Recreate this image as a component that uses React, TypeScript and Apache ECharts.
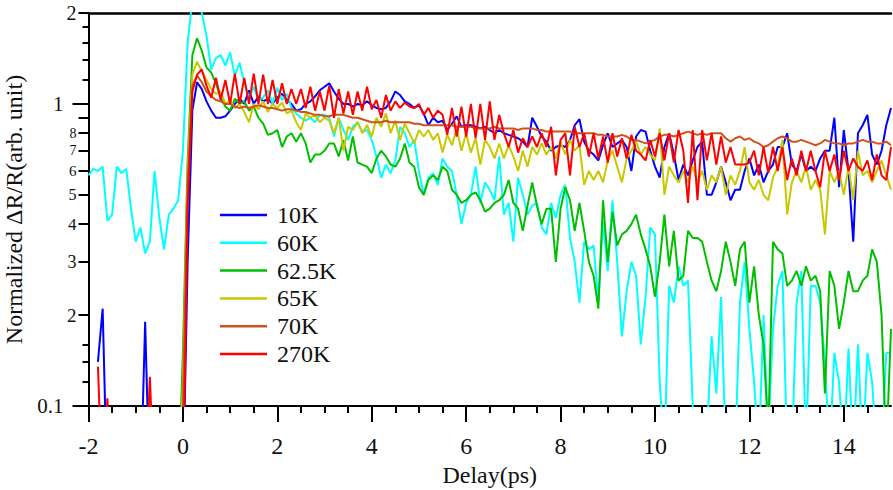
import { useEffect, useRef } from "react";
import * as echarts from "echarts";

// Delay grid (ps): -2.0 ... 15.0 in 0.1 ps steps
const DELAY: number[] = Array.from({ length: 171 }, (_, i) => Math.round((-2 + i * 0.1) * 10) / 10);

const N = null;
// Normalized dR/R values (0.05 / 0.07 = below the 0.1 floor of the log axis)
const K10: (number | null)[] = [
  N, N, 0.14, 0.21, 0.05, N, N, N, N, N,
  N, 0.05, 0.19, 0.05, N, N, N, N, N, N,
  0.05, 0.3, 0.95, 1.18, 1.12, 1.02, 0.95, 0.9, 0.9, 0.91,
  0.95, 1.0, 1.04, 1.0, 1.11, 1.0, 1.06, 1.02, 1.04, 1.0,
  1.05, 1.08, 1.03, 1.0, 0.95, 0.96, 1.0, 1.02, 1.06, 1.11,
  1.14, 1.17, 1.1, 1.04, 1.0, 1.0, 0.98, 1.0, 0.99, 1.02,
  0.99, 0.97, 0.96, 0.97, 1.02, 1.1, 1.07, 1.02, 1.0, 0.97,
  0.99, 0.93, 0.85, 0.9, 0.87, 0.88, 0.82, 0.86, 0.91, 0.84,
  0.85, 0.85, 0.84, 0.83, 0.84, 0.82, 0.8, 0.82, 0.8, 0.79,
  0.78, 0.77, 0.75, 0.72, 0.9, 0.84, 0.78, 0.75, 0.7, 0.72,
  0.73, 0.72, 0.76, 0.85, 0.89, 0.75, 0.7, 0.68, 0.65, 0.73,
  0.8, 0.72, 0.74, 0.76, 0.72, 0.6, 0.78, 0.82, 0.81, 0.7,
  0.62, 0.57, 0.72, 0.8, 0.68, 0.56, 0.63, 0.58, 0.65, 0.72,
  0.75, 0.5, 0.5, 0.55, 0.62, 0.55, 0.48, 0.52, 0.52, 0.6,
  0.66, 0.58, 0.63, 0.55, 0.6, 0.63, 0.72, 0.72, 0.8, 0.63,
  0.6, 0.68, 0.6, 0.62, 0.6, 0.66, 0.7, 0.7, 0.9, 0.53,
  0.82, 0.6, 0.35, 0.8, 0.85, 0.92, 0.68, 0.63, 0.7, 0.85,
  0.97,
];
const K60: (number | null)[] = [
  0.58, 0.61, 0.6, 0.62, 0.41, 0.43, 0.62, 0.59, 0.61, 0.45,
  0.35, 0.39, 0.32, 0.35, 0.6, 0.42, 0.33, 0.43, 0.45, 0.48,
  0.7, 1.6, 2.2, 2.3, 2.0, 1.68, 1.3, 1.42, 1.45, 1.34,
  1.48, 1.24, 1.37, 1.17, 1.05, 1.14, 1.03, 1.05, 1.11, 1.0,
  1.13, 1.03, 1.08, 0.97, 0.93, 0.9, 0.88, 0.9, 0.87, 0.92,
  0.92, 0.9, 0.78, 0.9, 0.82, 0.76, 0.84, 0.87, 0.81, 0.82,
  0.76, 0.67, 0.57, 0.63, 0.59, 0.65, 0.84, 0.8, 0.72, 0.76,
  0.6, 0.5, 0.57, 0.59, 0.54, 0.66, 0.62, 0.6, 0.5, 0.4,
  0.47, 0.5, 0.62, 0.47, 0.55, 0.52, 0.48, 0.67, 0.43, 0.47,
  0.35, 0.57, 0.5, 0.43, 0.46, 0.47, 0.39, 0.37, 0.47, 0.42,
  0.5, 0.54, 0.36, 0.3, 0.22, 0.35, 0.33, 0.34, 0.22, 0.41,
  0.28, 0.48, 0.3, 0.17, 0.24, 0.3, 0.27, 0.16, 0.23, 0.39,
  0.37, 0.12, 0.07, 0.25, 0.22, 0.29, 0.25, 0.26, 0.1, 0.07,
  0.07, 0.08, 0.17, 0.11, 0.23, 0.07, 0.07, 0.07, 0.22, 0.3,
  0.18, 0.12, 0.07, 0.2, 0.08, 0.18, 0.25, 0.28, 0.07, 0.07,
  0.22, 0.28, 0.07, 0.25, 0.25, 0.22, 0.14, 0.07, 0.15, 0.12,
  0.07, 0.155, 0.07, 0.16, 0.07, 0.15, 0.12, 0.07, 0.07, 0.15,
  0.15,
];
const K62_5: (number | null)[] = [
  0.05, 0.05, 0.05, 0.05, 0.05, 0.05, 0.05, 0.05, 0.05, 0.05,
  0.05, 0.05, 0.05, 0.05, 0.05, 0.05, 0.05, 0.05, 0.05, 0.05,
  0.15, 0.65, 1.45, 1.65, 1.5, 1.32, 1.27, 1.17, 1.05, 0.98,
  0.95, 1.04, 1.0, 1.02, 0.95, 0.98, 0.9, 0.86, 0.79, 0.8,
  0.82, 0.72, 0.78, 0.8, 0.75, 0.8, 0.74, 0.64, 0.68, 0.68,
  0.7, 0.74, 0.74, 0.67, 0.76, 0.65, 0.78, 0.64, 0.63, 0.62,
  0.59, 0.66, 0.7, 0.67, 0.63, 0.62, 0.66, 0.74, 0.64, 0.62,
  0.53, 0.5, 0.56, 0.58, 0.56, 0.62, 0.6, 0.52, 0.5, 0.47,
  0.48, 0.5, 0.51, 0.48, 0.44, 0.45, 0.47, 0.48, 0.5, 0.56,
  0.47, 0.45, 0.38, 0.46, 0.55, 0.46, 0.4, 0.45, 0.45, 0.3,
  0.45, 0.53, 0.48, 0.38, 0.47, 0.38, 0.3, 0.27, 0.21, 0.48,
  0.3, 0.44, 0.34, 0.37, 0.38, 0.4, 0.43, 0.37, 0.33, 0.29,
  0.23, 0.3, 0.43, 0.29, 0.38, 0.26, 0.27, 0.38, 0.36, 0.36,
  0.35, 0.3, 0.26, 0.24, 0.28, 0.35, 0.3, 0.25, 0.33, 0.35,
  0.22, 0.29, 0.2, 0.16, 0.08, 0.35, 0.33, 0.32, 0.25, 0.26,
  0.28, 0.25, 0.29, 0.26, 0.27, 0.24, 0.11, 0.28, 0.25, 0.18,
  0.22, 0.28, 0.24, 0.24, 0.26, 0.27, 0.33, 0.3, 0.2, 0.07,
  0.18,
];
const K65: (number | null)[] = [
  0.05, 0.05, 0.05, 0.05, 0.05, 0.05, 0.05, 0.05, 0.05, 0.05,
  0.05, 0.05, 0.05, 0.05, 0.05, 0.05, 0.05, 0.05, 0.05, 0.05,
  0.12, 0.6, 1.25, 1.38, 1.28, 1.2, 1.12, 1.08, 1.1, 1.0,
  1.03, 0.97, 1.0, 0.94, 0.87, 1.0, 0.96, 1.02, 0.94, 1.0,
  0.97, 1.01, 0.93, 0.95, 0.87, 0.82, 0.93, 0.9, 0.92, 0.87,
  0.9, 0.88, 0.8, 0.9, 0.7, 0.84, 0.82, 0.87, 0.8, 0.85,
  0.78, 0.9, 0.84, 0.93, 0.8, 0.88, 0.76, 0.86, 0.8, 0.74,
  0.82, 0.78, 0.82, 0.76, 0.8, 0.69, 0.79, 0.73, 0.83, 0.7,
  0.8, 0.69, 0.77, 0.63, 0.76, 0.72, 0.66, 0.74, 0.66, 0.73,
  0.67, 0.6, 0.7, 0.62, 0.72, 0.68, 0.74, 0.68, 0.72, 0.66,
  0.75, 0.68, 0.76, 0.7, 0.73, 0.54, 0.6, 0.56, 0.6, 0.55,
  0.65, 0.7, 0.62, 0.55, 0.66, 0.7, 0.75, 0.68, 0.72, 0.68,
  0.65, 0.83, 0.5, 0.62, 0.58, 0.55, 0.6, 0.55, 0.62, 0.55,
  0.6, 0.52, 0.58, 0.55, 0.62, 0.5, 0.58, 0.54, 0.6, 0.72,
  0.55, 0.52, 0.56, 0.5, 0.48, 0.57, 0.62, 0.76, 0.43, 0.55,
  0.6, 0.55, 0.62, 0.52, 0.56, 0.52, 0.37, 0.6, 0.55, 0.6,
  0.5, 0.62, 0.48, 0.7, 0.58, 0.6, 0.55, 0.6, 0.65, 0.58,
  0.52,
];
const K70: (number | null)[] = [
  0.05, 0.05, 0.05, 0.05, 0.05, 0.05, 0.05, 0.05, 0.05, 0.05,
  0.05, 0.05, 0.05, 0.05, 0.05, 0.05, 0.05, 0.05, 0.05, 0.05,
  0.1, 0.55, 1.15, 1.24, 1.18, 1.1, 1.06, 1.03, 1.02, 1.0,
  1.0, 0.98, 0.97, 0.98, 0.97, 0.98, 0.99, 0.98, 0.97, 0.97,
  0.96, 0.95, 0.96, 0.96, 0.95, 0.94, 0.94, 0.93, 0.92, 0.92,
  0.91, 0.91, 0.92, 0.92, 0.92, 0.91, 0.9, 0.9, 0.89, 0.88,
  0.87, 0.87, 0.87, 0.88, 0.87, 0.87, 0.87, 0.87, 0.87, 0.86,
  0.86, 0.85, 0.85, 0.85, 0.85, 0.85, 0.85, 0.85, 0.84, 0.84,
  0.84, 0.84, 0.83, 0.83, 0.83, 0.83, 0.84, 0.83, 0.83, 0.83,
  0.83, 0.82, 0.83, 0.83, 0.83, 0.82, 0.82, 0.81, 0.81, 0.81,
  0.81, 0.81, 0.81, 0.8, 0.8, 0.8, 0.8, 0.8, 0.79, 0.79,
  0.78, 0.78, 0.78, 0.79, 0.78, 0.76, 0.76, 0.75, 0.74, 0.75,
  0.76, 0.78, 0.79, 0.79, 0.78, 0.79, 0.8, 0.81, 0.8, 0.79,
  0.8, 0.79, 0.8, 0.8, 0.8, 0.77, 0.75, 0.77, 0.78, 0.76,
  0.77, 0.75, 0.74, 0.72, 0.73, 0.75, 0.77, 0.78, 0.77, 0.75,
  0.75, 0.76, 0.75, 0.74, 0.73, 0.74, 0.76, 0.75, 0.74, 0.74,
  0.73, 0.74, 0.74, 0.75, 0.76, 0.75, 0.75, 0.74, 0.74, 0.75,
  0.73,
];
const K270: (number | null)[] = [
  N, N, 0.135, 0.05, 0.106, 0.05, N, N, N, N,
  N, N, 0.05, 0.125, 0.05, N, N, N, N, N,
  0.05, 0.45, 1.1, 1.25, 1.3, 1.15, 1.05, 1.22, 1.03, 1.2,
  1.0, 1.26, 1.0, 1.22, 1.0, 1.26, 1.0, 1.25, 1.0, 1.2,
  1.0, 1.17, 1.0, 1.12, 1.0, 1.12, 0.97, 1.14, 0.95, 1.1,
  0.95, 1.15, 0.9, 1.12, 0.93, 1.1, 0.92, 1.1, 0.95, 1.14,
  0.96, 1.03, 0.9, 1.07, 0.95, 1.02, 0.97, 1.01, 0.98, 0.97,
  1.0, 0.92, 0.97, 0.9, 0.95, 0.92, 0.79, 0.97, 0.78, 0.98,
  0.78, 1.0, 0.77, 1.0, 0.76, 1.02, 0.76, 0.92, 0.8, 0.72,
  0.82, 0.69, 0.77, 0.72, 0.78, 0.72, 0.8, 0.72, 0.84, 0.58,
  0.76, 0.8, 0.58, 0.84, 0.72, 0.8, 0.67, 0.8, 0.66, 0.78,
  0.64, 0.8, 0.67, 0.77, 0.66, 0.79, 0.7, 0.68, 0.65, 0.76,
  0.67, 0.8, 0.65, 0.8, 0.64, 0.82, 0.7, 0.47, 0.82, 0.48,
  0.82, 0.65, 0.8, 0.63, 0.78, 0.64, 0.72, 0.63, 0.63, 0.63,
  0.64, 0.7, 0.58, 0.72, 0.59, 0.72, 0.6, 0.72, 0.56, 0.66,
  0.58, 0.7, 0.6, 0.7, 0.6, 0.53, 0.7, 0.6, 0.68, 0.56,
  0.7, 0.6, 0.66, 0.62, 0.6, 0.65, 0.56, 0.68, 0.58, 0.56,
  0.72,
];

const SERIES_NAMES = ["10K", "60K", "62.5K", "65K", "70K", "270K"];
const SERIES_VALUES = [K10, K60, K62_5, K65, K70, K270];
const COLORS = ["#0000ff", "#00ffff", "#00bf00", "#c8c800", "#d0521a", "#ff0000"];

const X_MIN = -2;
const X_MAX = 15;
const X_MAJOR = [-2, 0, 2, 4, 6, 8, 10, 12, 14];
const X_MINOR = [-1.5, -1, -0.5, 0.5, 1, 1.5, 2.5, 3, 3.5, 4.5, 5, 5.5, 6.5, 7, 7.5, 8.5, 9, 9.5, 10.5, 11, 11.5, 12.5, 13, 13.5, 14.5];

const Y_MAX = 2;
const Y_MAJOR = [0.1, 1];
const Y_MEDIUM = [0.2, 0.3, 0.4, 0.5, 0.6, 0.7, 0.8, 0.9, 2];
const Y_MEDIUM_LABELS = [0.2, 0.3, 0.4, 0.5, 0.6, 0.7, 0.8, 2];
const Y_MINOR = [0.12, 0.14, 0.16, 1.2, 1.4, 1.6, 1.8];
const Y_MEDIUM_FONT: Record<string, number> = { "0.2": 19, "0.3": 18, "0.4": 17, "0.5": 16, "0.6": 15, "0.7": 14, "0.8": 14, "2": 20 };

const FONT = "Liberation Serif, Times New Roman, DejaVu Serif, serif";
const lg = (v: number) => (v === 0.1 ? -1 : Math.log10(v));
const unlg = (v: number) => Math.round(Math.pow(10, v) * 100) / 100;

export default function App() {
  const ref = useRef<HTMLDivElement>(null);
  useEffect(() => {
    if (!ref.current) return;
    const chart = echarts.init(ref.current, undefined, { renderer: "svg" });
    const yMin = -1;
    const yMax = Math.log10(Y_MAX);
    const baseY = {
      type: "value" as const,
      min: yMin,
      max: yMax,
      position: "left" as const,
      splitLine: { show: false },
    };
    const baseX = {
      type: "value" as const,
      min: X_MIN,
      max: X_MAX,
      splitLine: { show: false },
    };
    const rich: Record<string, any> = {};
    [14, 15, 16, 17, 18, 19, 20].forEach((s) => (rich["s" + s] = { fontSize: s, fontFamily: FONT, color: "#111" }));

    chart.setOption({
      animation: false,
      backgroundColor: "#ffffff",
      textStyle: { fontFamily: FONT },
      grid: { left: 88.5, right: 2, top: 13, bottom: 84, containLabel: false, outerBoundsMode: "none" },
      legend: {
        orient: "vertical",
        left: 215,
        top: 198,
        icon: "rect",
        itemWidth: 47,
        itemHeight: 2.5,
        itemGap: 3.8,
        selectedMode: false,
        data: SERIES_NAMES,
        textStyle: { fontFamily: FONT, fontSize: 24, lineHeight: 24, color: "#111", padding: [0, 0, 0, 5] },
      },
      xAxis: [
        {
          ...baseX,
          position: "bottom",
          name: "Delay(ps)",
          nameLocation: "middle",
          nameGap: 54,
          nameTextStyle: { fontFamily: FONT, fontSize: 24, color: "#111" },
          axisLine: { show: true, onZero: false, lineStyle: { color: "#000", width: 2 } },
          axisTick: { show: true, inside: false, length: 16, customValues: X_MAJOR, lineStyle: { color: "#000", width: 2 } },
          axisLabel: { show: true, margin: 28, customValues: X_MAJOR, fontFamily: FONT, fontSize: 24, color: "#111" },
        },
        {
          ...baseX,
          position: "bottom",
          axisLine: { show: false, onZero: false },
          axisTick: { show: true, inside: false, length: 7, customValues: X_MINOR, lineStyle: { color: "#000", width: 2 } },
          axisLabel: { show: false },
        },
        {
          ...baseX,
          position: "top",
          axisLine: { show: true, onZero: false, lineStyle: { color: "#000", width: 2.5 } },
          axisTick: { show: false },
          axisLabel: { show: false },
        },
      ],
      yAxis: [
        {
          ...baseY,
          name: "Normalized \u0394R/R(arb. unit)",
          nameLocation: "middle",
          nameGap: 52,
          nameTextStyle: { fontFamily: FONT, fontSize: 24, color: "#111" },
          axisLine: { show: true, onZero: false, lineStyle: { color: "#000", width: 2 } },
          axisTick: { show: true, inside: false, length: 16, customValues: Y_MAJOR.map(lg), lineStyle: { color: "#000", width: 2 } },
          axisLabel: {
            show: true,
            margin: 25,
            customValues: Y_MAJOR.map(lg),
            fontFamily: FONT,
            fontSize: 21,
            color: "#111",
            formatter: (v: number) => String(unlg(v)),
          },
        },
        {
          ...baseY,
          axisLine: { show: false, onZero: false },
          axisTick: { show: true, inside: false, length: 10, customValues: Y_MEDIUM.map(lg), lineStyle: { color: "#000", width: 2 } },
          axisLabel: {
            show: true,
            margin: 12,
            fontFamily: FONT,
            customValues: Y_MEDIUM_LABELS.map(lg),
            rich,
            formatter: (v: number) => {
              const n = unlg(v);
              const size = Y_MEDIUM_FONT[String(n)] ?? 15;
              const txt = n >= 1 ? String(n) : String(Math.round(n * 10));
              return `{s${size}|${txt}}`;
            },
          },
        },
        {
          ...baseY,
          axisLine: { show: false, onZero: false },
          axisTick: { show: true, inside: false, length: 6, customValues: Y_MINOR.map(lg), lineStyle: { color: "#000", width: 2 } },
          axisLabel: { show: false },
        },
      ],
      series: SERIES_NAMES.map((name, k) => ({
        name,
        type: "line",
        xAxisIndex: 0,
        yAxisIndex: 0,
        symbol: "none",
        showSymbol: false,
        clip: true,
        smooth: false,
        connectNulls: false,
        color: COLORS[k],
        lineStyle: { color: COLORS[k], width: 2 },
        data: DELAY.map((x, i) => {
          const v = SERIES_VALUES[k][i];
          return [x, v == null ? null : lg(v)];
        }),
      })),
    });
    return () => chart.dispose();
  }, []);
  return (
    <div
      ref={ref}
      style={{ position: "fixed", left: 0, top: 0, width: 893, height: 490, background: "#fff" }}
    />
  );
}
